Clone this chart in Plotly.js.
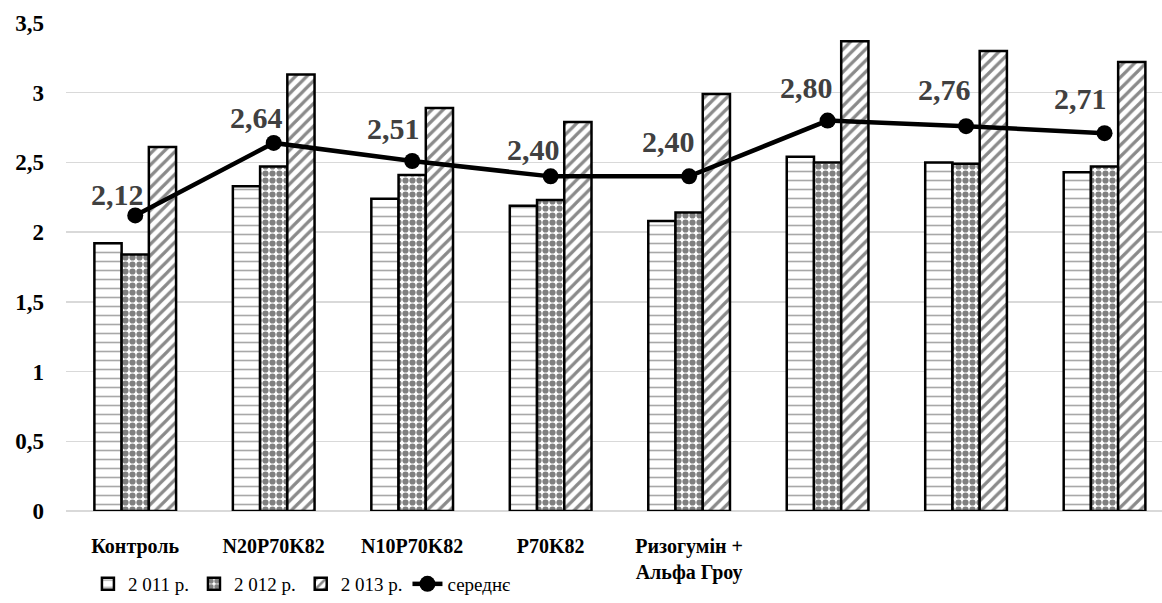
<!DOCTYPE html>
<html>
<head>
<meta charset="utf-8">
<script src="https://cdn.plot.ly/plotly-3.0.1.min.js"></script>
</head>
<body style="margin:0;font-family:'Liberation Serif'">
<div id="chart" style="width:1162px;height:603px"></div>
<script>
// ---- data ----
const categories = ['Контроль', 'N20P70K82', 'N10P70K82', 'P70K82', 'Ризогумін +<br>Альфа Гроу', ' ', '  ', '   '];
const y2011 = [1.92, 2.33, 2.24, 2.19, 2.08, 2.54, 2.50, 2.43];
const y2012 = [1.84, 2.47, 2.41, 2.23, 2.14, 2.50, 2.49, 2.47];
const y2013 = [2.61, 3.13, 2.89, 2.79, 2.99, 3.37, 3.30, 3.22];
const avg   = [2.12, 2.64, 2.51, 2.40, 2.40, 2.80, 2.76, 2.71];
const seriesNames = ['2 011 р.', '2 012 р.', '2 013 р.', 'середнє'];
const yTicks = [0, 0.5, 1, 1.5, 2, 2.5, 3, 3.5];

// ---- label placement (styling, not data) ----
const labelDx = [-18, -17, -19, -17, -21, -21, -22, -24];
const labelDy = [21, 25, 33, 27, 35, 33, 37, 35];

const FAM = 'Liberation Serif';
const outline = {color: '#000', width: 2.5};

const traces = [
  {type: 'bar', name: seriesNames[0], x: categories, y: y2011,
   marker: {color: '#fff', line: outline,
     pattern: {shape: '-', fgcolor: '#a8a8a8', bgcolor: '#fff', size: 9, solidity: 0.18}}},
  {type: 'bar', name: seriesNames[1], x: categories, y: y2012,
   marker: {color: '#fff', line: outline,
     pattern: {shape: '.', fgcolor: '#808080', bgcolor: '#fff', size: 7, solidity: 0.62}}},
  {type: 'bar', name: seriesNames[2], x: categories, y: y2013,
   marker: {color: '#fff', line: outline,
     pattern: {shape: '/', fgcolor: '#8a8a8a', bgcolor: '#fff', size: 8, solidity: 0.4}}},
  {type: 'scatter', mode: 'lines+markers', name: seriesNames[3], x: categories, y: avg,
   line: {color: '#000', width: 4.5},
   marker: {color: '#000', size: 16}}
];

const annotations = avg.map((v, i) => ({
  x: categories[i], y: v, xref: 'x', yref: 'y',
  text: v.toFixed(2).replace('.', ','),
  showarrow: false, xshift: labelDx[i], yshift: labelDy[i],
  font: {family: FAM, size: 30, color: '#404040', weight: 'bold'}
}));

const layout = {
  width: 1162, height: 603,
  margin: {l: 66, r: 0, t: 23, b: 91},
  paper_bgcolor: '#fff', plot_bgcolor: '#fff',
  separators: ', ',
  font: {family: FAM, color: '#000'},
  barmode: 'group', bargap: 0.41, bargroupgap: 0,
  showlegend: true,
  legend: {orientation: 'h', x: 0.02, xanchor: 'left', y: -0.15, yanchor: 'middle',
    font: {family: FAM, size: 19, color: '#000'}, traceorder: 'normal',
    itemwidth: 30, tracegroupgap: 0},
  xaxis: {type: 'category', range: [-0.5, 7.415], showgrid: false, zeroline: false,
    showline: false, ticks: '', ticklabelstandoff: 21,
    tickfont: {family: FAM, size: 20, color: '#000', weight: 'bold'}},
  yaxis: {range: [0, 3.5], tickvals: yTicks, showgrid: true, gridcolor: '#d9d9d9', gridwidth: 1.5,
    zeroline: true, zerolinecolor: '#d9d9d9', zerolinewidth: 1.5, showline: false, ticks: '',
    ticklabelstandoff: 21,
    tickfont: {family: FAM, size: 23, color: '#000', weight: 'bold'}},
  annotations: annotations
};

Plotly.newPlot('chart', traces, layout, {displayModeBar: false, staticPlot: true});
</script>
</body>
</html>
